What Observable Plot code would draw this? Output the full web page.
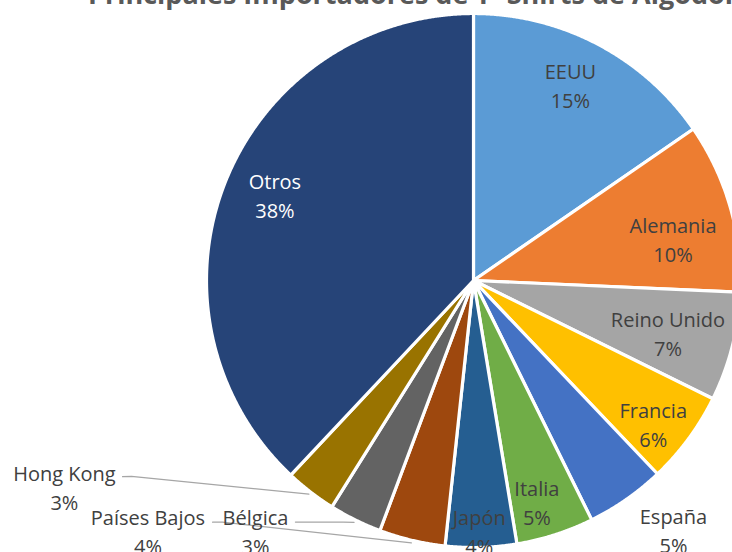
<!DOCTYPE html>
<html>
<head>
<meta charset="utf-8">
<script src="https://cdn.jsdelivr.net/npm/d3@7"></script>
<script src="https://cdn.jsdelivr.net/npm/@observablehq/plot@0.6"></script>
<style>
  html, body { margin: 0; padding: 0; background: #fff; }
  #wrap { position: relative; width: 732px; height: 552px; overflow: hidden; }
  #title { position: absolute; left: 88px; top: -20px; font: bold 27px/27px "Open Sans", sans-serif; color: #595959; white-space: nowrap; z-index: 2; }
  #chart svg { display: block; }
</style>
</head>
<body>
<div id="wrap">
  <div id="title">Principales Importadores de T- Shirts de Algodón</div>
  <div id="chart"></div>
</div>
<script>
// ---- data ----
const countries = ["EEUU", "Alemania", "Reino Unido", "Francia", "España", "Italia", "Japón", "Países Bajos", "Bélgica", "Hong Kong", "Otros"];
const shares = [15.4, 10.3, 6.6, 5.6, 4.8, 4.7, 4.3, 4.0, 3.2, 3.1, 38.0];
const sliceColors = ["#5B9BD5", "#ED7D31", "#A5A5A5", "#FFC000", "#4472C4", "#70AD47", "#255E91", "#9E480E", "#636363", "#997300", "#264478"];

// ---- layout (label placement: [angle deg from 12 o'clock clockwise, radius factor]) ----
const labelPlacement = [[26.3, 0.819], [78.0, 0.764], [105.0, 0.754], [128.5, 0.86], [141.2, 1.195], [164.0, 0.861], [178.7, 0.937], [232.5, 1.537], [221.1, 1.242], [243.3, 1.715], [293.5, 0.811]];
// leader lines: [country, start polar, knee polar]
const leaderLayout = [
  ["Hong Kong", [240.8, 1.506], [240.2, 1.476]],
  ["Países Bajos", [227.2, 1.332], [226.1, 1.305]],
  ["Bélgica", [216.4, 1.124], [208.3, 1.028]]
];

const W = 732, H = 552, CX = 473, CY = 280, R = 267;

const pie = d3.pie().sort(null).value(d => d.value).startAngle(0).endAngle(2 * Math.PI);
const rows = countries.map((name, i) => ({name, value: shares[i]}));
const arcs = pie(rows);

const polar = (deg, r) => { const a = deg * Math.PI / 180; return {x: r * Math.sin(a), y: r * Math.cos(a)}; };

const slicePts = [];
arcs.forEach(a => {
  slicePts.push({name: a.data.name, x: 0, y: 0});
  const n = Math.max(8, Math.ceil((a.endAngle - a.startAngle) / 0.004));
  for (let k = 0; k <= n; k++) {
    const t = a.startAngle + (a.endAngle - a.startAngle) * k / n;
    slicePts.push({name: a.data.name, x: Math.sin(t), y: Math.cos(t)});
  }
});

const labels = arcs.map((a, i) => {
  const p = polar(labelPlacement[i][0], labelPlacement[i][1]);
  return {name: a.data.name, text: `${a.data.name}\n${Math.round(a.data.value)}%`, x: p.x, y: p.y};
});

const leaderPts = [];
leaderLayout.forEach(([name, s, k]) => {
  const a = arcs.find(d => d.data.name === name);
  const mid = (a.startAngle + a.endAngle) / 2 * 180 / Math.PI;
  [polar(s[0], s[1]), polar(k[0], k[1]), polar(mid, 1.01)].forEach(p => leaderPts.push({name, ...p}));
});

const chart = Plot.plot({
  width: W,
  height: H,
  margin: 0,
  style: {background: "white"},
  x: {domain: [-CX / R, (W - CX) / R], axis: null},
  y: {domain: [(CY - H) / R, CY / R], axis: null},
  color: {domain: countries, range: sliceColors},
  marks: [
    Plot.line(slicePts, {x: "x", y: "y", z: "name", fill: "name", stroke: "white", strokeWidth: 3.2, curve: "linear-closed"}),
    Plot.line(leaderPts, {x: "x", y: "y", z: "name", stroke: "#A6A6A6", strokeWidth: 1.2}),
    Plot.text(labels, {x: "x", y: "y", text: "text", fill: d => d.name === "Otros" ? "white" : "#404040", fontSize: 20, fontFamily: "Open Sans", lineHeight: 1.45})
  ]
});
document.getElementById("chart").appendChild(chart);
</script>
</body>
</html>
